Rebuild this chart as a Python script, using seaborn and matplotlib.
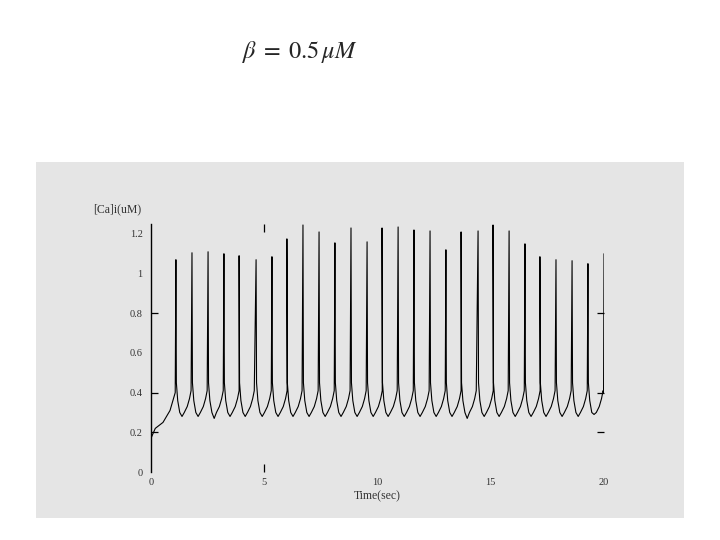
import numpy as np
import pandas as pd
import seaborn as sns
import matplotlib.pyplot as plt
from matplotlib.patches import Rectangle

# initial rise before first spike
start_t = [0.0, 0.19, 0.53, 0.84, 0.97, 1.07]
start_ca = [0.17, 0.22, 0.25, 0.31, 0.36, 0.40]

# spike times (sec) and peak [Ca] (uM)
spike_t = [1.10, 1.81, 2.52, 3.22, 3.89, 4.64, 5.34, 6.00, 6.71, 7.42,
           8.12, 8.83, 9.54, 10.20, 10.91, 11.61, 12.32, 13.02, 13.69, 14.44,
           15.10, 15.81, 16.51, 17.17, 17.88, 18.59, 19.29]
peak_ca = [1.07, 1.105, 1.11, 1.10, 1.09, 1.07, 1.085, 1.175, 1.245, 1.21,
           1.155, 1.23, 1.16, 1.23, 1.235, 1.22, 1.215, 1.12, 1.21, 1.215,
           1.245, 1.215, 1.15, 1.085, 1.07, 1.065, 1.05]
trough_ca = [0.28, 0.28, 0.27, 0.28, 0.28, 0.28, 0.28, 0.28, 0.28, 0.28,
             0.28, 0.28, 0.28, 0.28, 0.28, 0.28, 0.28, 0.28, 0.27, 0.28,
             0.28, 0.28, 0.28, 0.28, 0.28, 0.28, 0.29]

# one inter-spike cycle (offset from spike, value)
cycle_dt = [0.02, 0.08, 0.17, 0.27, 0.37, 0.50, 0.60, 0.67]
cycle_ca = [0.45, 0.36, 0.30, None, 0.30, 0.33, 0.37, 0.41]

# last upstroke at the end of the record
end_t = [19.98, 20.0]
end_ca = [0.40, 1.10]

t_all, ca_all = list(start_t), list(start_ca)
for tp, pk, tr in zip(spike_t, peak_ca, trough_ca):
    t_all.append(tp)
    ca_all.append(pk)
    for dt, v in zip(cycle_dt, cycle_ca):
        if tp + dt >= 19.97:
            continue
        t_all.append(tp + dt)
        ca_all.append(tr if v is None else v)
t_all += end_t
ca_all += end_ca

df = pd.DataFrame({'t': t_all, 'ca': ca_all})

sns.set_theme(style='white')
plt.rcParams['font.family'] = ['Liberation Serif', 'DejaVu Serif']
plt.rcParams['mathtext.fontset'] = 'stix'

fig = plt.figure(figsize=(7.2, 5.4), dpi=100)
fig.patch.set_facecolor('white')
fig.patches.append(Rectangle((0.05, 0.0407), 0.9, 0.6593, transform=fig.transFigure,
                             facecolor='#e5e5e5', edgecolor='none', zorder=-5))

ax = fig.add_axes([0.2097, 0.1259, 0.6292, 0.4593])
ax.set_zorder(2)
ax.patch.set_alpha(0)
sns.lineplot(data=df, x='t', y='ca', sort=False, estimator=None,
             color='black', linewidth=0.8, ax=ax)

ax.set_xlim(0, 20)
ax.set_ylim(0, 1.25)
ax.set_xticks([0, 5, 10, 15, 20])
ax.set_xticklabels(['0', '5', '10', '15', '20'])
ax.set_yticks([0, 0.2, 0.4, 0.6, 0.8, 1.0, 1.2])
ax.set_yticklabels(['0', '0.2', '0.4', '0.6', '0.8', '1', '1.2'])
# tick marks only where the original shows them
ax.xaxis.remove_overlapping_locs = False
ax.yaxis.remove_overlapping_locs = False
ax.set_yticks([0.2, 0.4, 0.8], minor=True)
ax.set_xticks([5], minor=True)
for s in ['top', 'right', 'bottom']:
    ax.spines[s].set_visible(False)
ax.spines['left'].set_color('black')
ax.spines['left'].set_linewidth(1.0)
ax.tick_params(axis='both', which='major', length=0, labelsize=7.5,
               labelcolor='#333333')
ax.tick_params(axis='y', which='major', pad=6)
ax.tick_params(axis='x', which='major', pad=4)
ax.tick_params(axis='y', which='minor', left=True, right=True, direction='in',
               length=5, width=0.9, color='black')
ax.tick_params(axis='x', which='minor', bottom=True, top=True, direction='in',
               length=6, width=0.9, color='black')

ax.set_xlabel('Time(sec)', fontsize=8.5, color='#333333', labelpad=3)
ax.set_ylabel('')
ax.text(-0.128, 1.06, '[Ca]i(uM)', transform=ax.transAxes, fontsize=8.5,
        color='#333333', ha='left', va='center')

fig.text(0.417, 0.904, r'$\beta\;=\;0.5\,\mu M$', fontsize=17.5, ha='center', va='center')

fig.savefig('out.png', dpi=100)
